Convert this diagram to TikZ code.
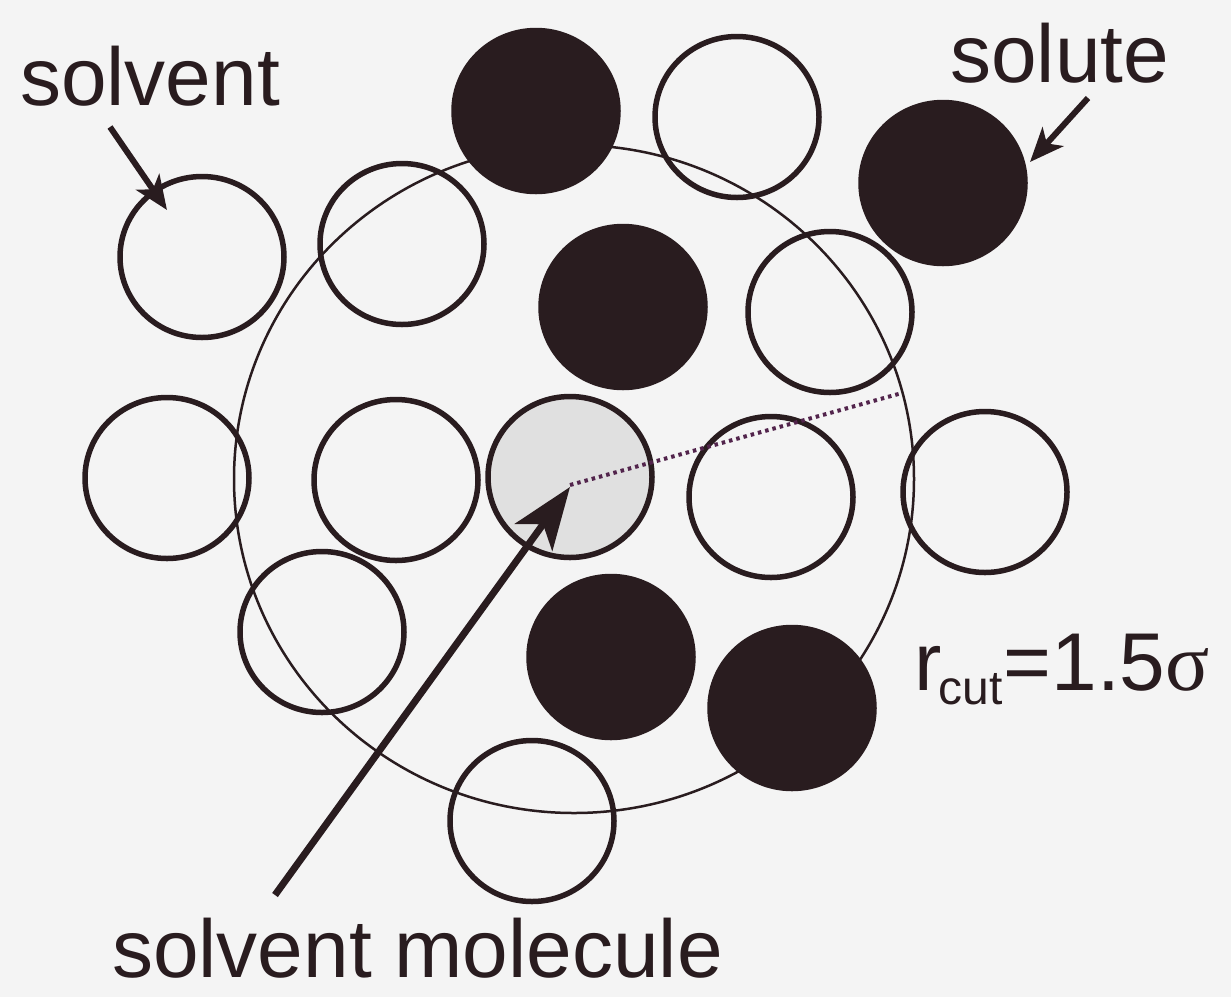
\documentclass[tikz,border=0pt]{standalone}
\usepackage{fontspec}
\setmainfont{Liberation Sans}
\newfontfamily\symfont{Liberation Serif}
\usetikzlibrary{shapes.geometric,arrows.meta}
\definecolor{ink}{rgb}{0.16,0.11,0.12}
\definecolor{bgc}{rgb}{0.955,0.955,0.955}
\definecolor{greyfill}{rgb}{0.88,0.88,0.88}
\definecolor{dotc}{rgb}{0.32,0.14,0.30}
\tikzset{
  molopen/.style={ellipse, draw=ink, line width=5.5pt, minimum width=164pt, minimum height=161pt, inner sep=0pt},
  molfill/.style={molopen, fill=ink},
  molgrey/.style={molopen, fill=greyfill},
  lbl/.style={anchor=base west, inner sep=0pt, text depth=0pt, text=ink, font=\fontsize{82}{82}\selectfont},
  smallarrow/.style={draw=ink, line width=6pt, -{Stealth[length=34pt,width=28pt,inset=9pt]}},
  bigarrow/.style={draw=ink, line width=7pt, -{Stealth[length=62pt,width=46pt,inset=16pt]}},
  cutline/.style={draw=ink, line width=2.5pt},
  radline/.style={draw=dotc, line width=4pt, dash pattern=on 3.5pt off 4pt}
}
\begin{document}
\begin{tikzpicture}[x=1pt,y=-1pt]
\fill[bgc] (0,0) rectangle (1231,997);
\useasboundingbox (0,0) rectangle (1231,997);
% cut-off sphere
\coordinate (cen) at (574,479);
\draw[cutline] (cen) ellipse [x radius=340pt, y radius=334pt];
% molecules
\node[molopen] (c1) at (202,257) {};
\node[molopen] (c2) at (402,244) {};
\node[molfill] (c3) at (536,111) {};
\node[molopen] (c4) at (737,117) {};
\node[molfill] (c5) at (943,183) {};
\node[molfill] (c6) at (623,307) {};
\node[molopen] (c7) at (830,312) {};
\node[molopen] (c8) at (167,478) {};
\node[molopen] (c9) at (396,480) {};
\node[molgrey] (c10) at (570,477) {};
\node[molopen] (c11) at (771,497) {};
\node[molopen] (c12) at (985,492) {};
\node[molopen] (c13) at (322,632) {};
\node[molfill] (c14) at (611,657) {};
\node[molfill] (c15) at (792,708) {};
\node[molopen] (c16) at (532,821) {};
% radius line
\coordinate (rin) at (570,485);
\coordinate (rout) at (902,393);
\draw[radline] (rin) -- (rout);
% labels
\node[lbl] (tsolvent) at (20,105) {solvent};
\node[lbl] (tsolute) at (950,82) {solute};
\node[lbl] (tmol) at (112,977) {solvent molecule};
\node[lbl] (trcut) at (914,690) {r\kern-3pt\raisebox{-14pt}{\fontsize{48}{48}\selectfont cut}\kern1pt=1.5{\symfont σ}};
% arrows
\coordinate (s1) at (110,127);
\coordinate (s2) at (167,210);
\draw[smallarrow] (s1) -- (s2);
\coordinate (u1) at (1088,98);
\coordinate (u2) at (1030,162);
\draw[smallarrow] (u1) -- (u2);
\coordinate (m1) at (275,895);
\coordinate (m2) at (570,487);
\draw[bigarrow] (m1) -- (m2);
\end{tikzpicture}
\end{document}
